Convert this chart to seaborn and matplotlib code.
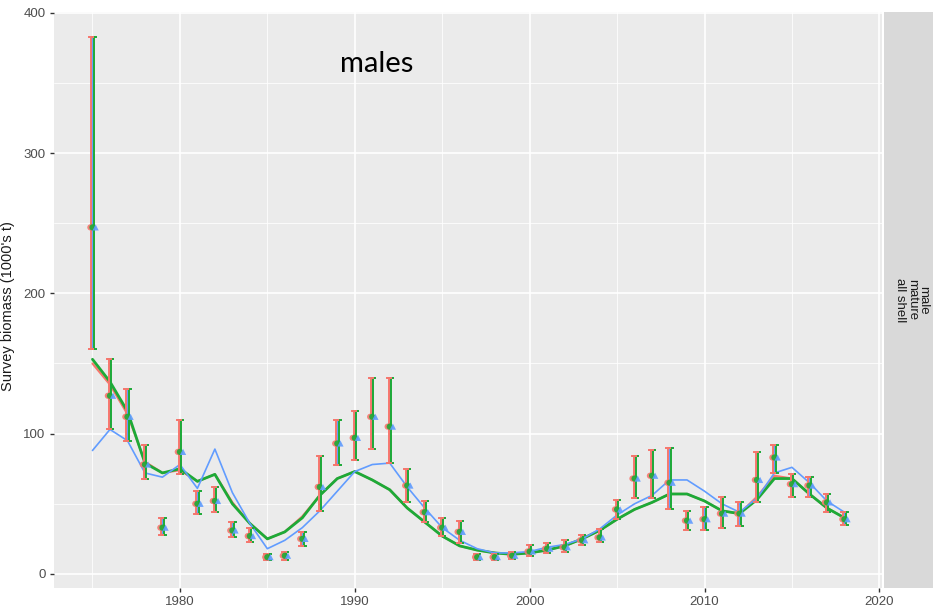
import numpy as np
import pandas as pd
import matplotlib
matplotlib.use("Agg")
import matplotlib.pyplot as plt
import seaborn as sns

years = list(range(1975, 2019))
obs = [247, 127, 112, 78, 33, 87, 50, 52, 31, 27, 12, 13, 25, 62, 93, 97, 112, 105,
       63, 44, 33, 30, 12, 12, 13, 16, 18, 19, 24, 26, 46, 68, 70, 65, 38, 39, 43, 43,
       67, 83, 64, 63, 51, 39]
obs_lo = [160, 103, 95, 68, 28, 71, 43, 44, 26, 23, 10, 10, 20, 45, 78, 81, 89, 79,
          51, 37, 27, 22, 10, 10, 11, 13, 15, 16, 21, 23, 39, 54, 54, 46, 31, 31, 33, 34,
          51, 72, 55, 55, 44, 35]
obs_hi = [383, 153, 132, 92, 40, 110, 59, 62, 37, 33, 14, 16, 30, 84, 110, 116, 140, 140,
          75, 52, 40, 38, 14, 14, 16, 21, 22, 24, 28, 32, 53, 84, 88, 90, 45, 48, 55, 51,
          87, 92, 71, 69, 57, 44]
fit_red = [150, 135, 114, 80, 72, 74, 66, 71, 51, 36, 25, 30, 41, 56, 68, 73, 67, 60,
           47, 37, 27, 20, 17, 15, 14, 15, 17, 20, 25, 31, 39, 46, 51, 57, 57, 52, 45, 43,
           55, 70, 68, 57, 47, 40]
fit_green = [153, 137, 116, 79, 72, 75, 66, 71, 50, 36, 25, 30, 40, 56, 68, 73, 67, 60,
             47, 37, 27, 20, 17, 15, 14, 15, 17, 20, 25, 31, 39, 46, 51, 57, 57, 52, 45, 43,
             53, 68, 68, 57, 47, 40]
fit_blue = [88, 103, 95, 72, 69, 78, 61, 89, 58, 36, 18, 24, 33, 45, 59, 73, 78, 79,
            62, 47, 33, 24, 18, 15, 15, 16, 19, 21, 25, 32, 42, 50, 56, 67, 67, 59, 50, 44,
            54, 72, 76, 65, 52, 44]
model_names = ["model A", "model B", "model C"]
model_colors = ["#F8766D", "#1DAA37", "#619CFF"]
x_ticks = [1980, 1990, 2000, 2010, 2020]
y_ticks = [0, 100, 200, 300, 400]

sns.set_theme(style="darkgrid")
W, H = 933, 613
fig = plt.figure(figsize=(W / 100, H / 100), dpi=100)
L, R, T, B = 54, 882, 12, 588
ax = fig.add_axes([L / W, 1 - B / H, (R - L) / W, (B - T) / H])
ax.set_facecolor("#EBEBEB")

fits = [fit_red, fit_green, fit_blue]
df = pd.DataFrame({
    "year": np.tile(years, 3),
    "value": np.concatenate(fits),
    "model": np.repeat(model_names, len(years)),
})
lw = {"model A": 1.6, "model B": 2.0, "model C": 1.2}
for name, col in zip(model_names, model_colors):
    sns.lineplot(data=df[df.model == name], x="year", y="value", color=col,
                 linewidth=lw[name], ax=ax, legend=False, zorder=3)

yrs = np.array(years, dtype=float)
o = np.array(obs, dtype=float)
lo = np.array(obs_lo, dtype=float)
hi = np.array(obs_hi, dtype=float)
# blue bar at centre, green to the right, red to the left (drawn last)
for off, col in zip([0.0, 0.07, -0.06], [model_colors[2], model_colors[1], model_colors[0]]):
    ax.errorbar(yrs + off, o, yerr=[o - lo, hi - o], fmt="none", ecolor=col,
                elinewidth=1.4, capsize=2.5, capthick=1.4, zorder=4)
for off, col, mk in zip([-0.12, 0.0, 0.18], model_colors, ["o", "o", "^"]):
    sns.scatterplot(x=yrs + off, y=o, color=col, marker=mk, s=20,
                    edgecolor="none", ax=ax, zorder=5, legend=False, alpha=0.9)

ax.set_xlim(1972.8, 2020.15)
ax.set_ylim(-10, 400.5)
ax.set_xticks(x_ticks)
ax.set_yticks(y_ticks)
ax.set_xticks([1975, 1985, 1995, 2005, 2015], minor=True)
ax.set_yticks([50, 150, 250, 350], minor=True)
ax.grid(which="major", color="white", linewidth=1.2)
ax.grid(which="minor", color="white", linewidth=0.55)
ax.set_xlabel("")
ax.set_ylabel("")
ax.tick_params(axis="both", which="major", length=3, width=1, color="#333333",
               labelsize=9.5, labelcolor="#4D4D4D", pad=3, bottom=True, left=True)
ax.tick_params(axis="both", which="minor", length=0)
for lab in ax.get_xticklabels() + ax.get_yticklabels():
    lab.set_family(["Liberation Sans", "DejaVu Sans"])
for s in ax.spines.values():
    s.set_visible(False)

fig.text(8 / W, 0.5, "Survey biomass (1000's t)", rotation=90, ha="center", va="center",
         fontsize=10.5, color="#1A1A1A", family=["Liberation Sans", "DejaVu Sans"])

sax = fig.add_axes([884 / W, 1 - B / H, (W - 884) / W + 0.01, (B - T) / H])
sax.set_facecolor("#D9D9D9")
sax.set_xticks([])
sax.set_yticks([])
for s in sax.spines.values():
    s.set_visible(False)
sax.text(0.48, 0.5, "male\nmature\nall shell", rotation=-90, ha="center", va="center",
         fontsize=9.5, color="#1A1A1A", transform=sax.transAxes, linespacing=0.95,
         family=["Liberation Sans", "DejaVu Sans"])

fig.text(377 / W, 1 - 64 / H, "males", ha="center", va="center", fontsize=21,
         family=["Lato", "DejaVu Sans"], color="black")

fig.savefig("out.png", dpi=100)
